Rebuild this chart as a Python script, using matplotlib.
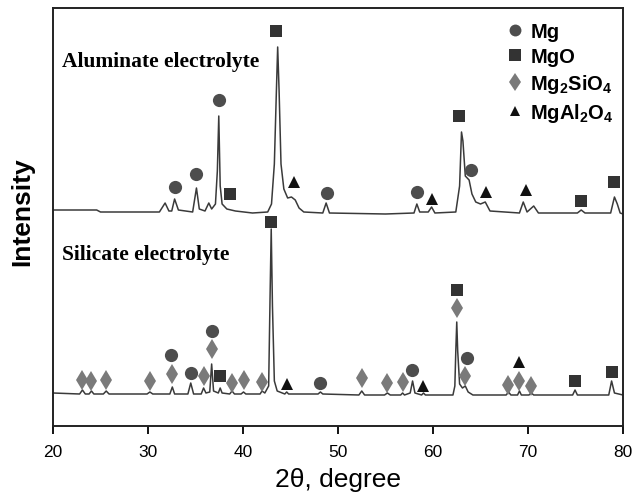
#IMPORT BLOCK===========================================================
import matplotlib
matplotlib.use('Agg')
import matplotlib.pyplot as plt
from matplotlib.lines import Line2D

#INPUT DATA=============================================================
# -- aluminate electrolyte pattern (2theta, intensity in arb. units)
alTheta = [20.0, 24.6, 25.0, 31.2, 31.8, 32.2, 32.5, 32.8, 33.2, 34.7,
           35.1, 35.4, 36.0, 36.4, 36.7, 37.1, 37.3, 37.45, 37.6, 37.8,
           38.3, 39.2, 41.0, 42.6, 43.0, 43.3, 43.5, 43.65, 43.8, 44.0,
           44.3, 44.7, 45.1, 45.5, 45.9, 46.4, 48.4, 48.75, 49.1, 55.0,
           58.0, 58.3, 58.6, 59.5, 59.85, 60.2, 62.4, 62.8, 63.0, 63.15,
           63.4, 63.8, 64.1, 64.5, 65.0, 65.5, 66.0, 69.1, 69.5, 69.9,
           70.6, 71.1, 71.6, 75.2, 75.6, 76.0, 78.7, 79.1, 79.4, 79.7, 80.0]
alInt   = [216, 216, 214, 214, 223, 215, 215, 227, 216, 214,
           238, 217, 215, 223, 217, 222, 255, 310, 240, 222,
           217, 215, 213, 214, 222, 262, 330, 379, 335, 262,
           237, 228, 229, 226, 218, 214, 213, 223, 213, 212,
           213, 222, 214, 214, 219, 213, 214, 240, 294, 285,
           250, 246, 232, 224, 222, 224, 215, 213, 224, 214,
           220, 213, 213, 213, 216, 213, 213, 229, 222, 213, 212]

# -- silicate electrolyte pattern (2theta, intensity in arb. units)
siTheta = [20.0, 22.8, 23.1, 23.4, 23.8, 24.05, 24.3, 25.3, 25.6, 25.9,
           29.9, 30.2, 30.5, 32.3, 32.56, 32.8, 34.2, 34.5, 34.8, 35.6,
           35.85, 36.1, 36.5, 36.7, 36.9, 37.4, 37.6, 37.8, 38.6, 38.85,
           39.1, 39.8, 40.05, 40.3, 41.8, 42.0, 42.3, 42.7, 42.85, 42.97,
           43.1, 43.3, 43.6, 44.4, 44.6, 44.8, 47.9, 48.15, 48.4, 52.2,
           52.5, 52.8, 54.9, 55.2, 55.5, 56.6, 56.8, 57.0, 57.6, 57.85,
           58.1, 58.8, 59.0, 59.2, 62.1, 62.3, 62.4, 62.5, 62.6, 62.8,
           63.1, 63.4, 63.7, 64.2, 67.7, 67.95, 68.2, 68.9, 69.1, 69.3,
           70.1, 70.35, 70.6, 74.7, 74.95, 75.2, 78.5, 78.8, 79.1, 80.0]
siInt   = [33, 32, 36, 32, 32, 35, 32, 32, 35, 32,
           32, 34, 32, 32, 39, 32, 32, 43, 32, 32,
           38, 33, 34, 62, 35, 33, 38, 33, 32, 35,
           32, 32, 34, 32, 32, 35, 33, 40, 130, 197,
           120, 45, 35, 32, 34, 32, 32, 34, 32, 31,
           35, 31, 31, 33, 31, 31, 33, 31, 33, 45,
           33, 31, 33, 31, 31, 40, 75, 104, 75, 42,
           38, 40, 34, 31, 31, 34, 31, 31, 35, 31,
           31, 33, 31, 31, 36, 31, 31, 45, 33, 31]

# -- phase markers, aluminate pattern
alMgTh    = [32.8, 35.08, 37.46, 48.86, 58.29, 64.0]
alMgInt   = [239, 252, 326, 233, 234, 256]
alMgOTh   = [38.59, 43.5, 62.78, 75.58, 79.08]
alMgOInt  = [232, 395, 310, 225, 244]
alSpTh    = [45.42, 59.87, 65.59, 69.8]
alSpInt   = [244, 227, 234, 236]

# -- phase markers, silicate pattern
siMgTh    = [32.45, 34.48, 36.73, 48.13, 57.77, 63.55]
siMgInt   = [71, 53, 95, 43, 56, 68]
siMgOTh   = [37.6, 42.97, 62.54, 74.95, 78.8]
siMgOInt  = [50, 204, 136, 45, 54]
siFoTh    = [23.09, 24.04, 25.6, 30.17, 32.56, 35.85, 36.73, 38.83,
             40.06, 42.03, 52.5, 55.17, 56.82, 62.54, 63.38, 67.94,
             69.1, 70.33]
siFoInt   = [46, 45, 46, 45, 52, 50, 77, 43, 46, 44, 48, 43, 44, 118,
             50, 41, 45, 40]
siSpTh    = [44.61, 58.99, 69.02]
siSpInt   = [42, 40, 64]

phaseLbl  = ['Mg', 'MgO', 'Mg$_2$SiO$_4$', 'MgAl$_2$O$_4$']

#STYLE==================================================================
plt.rcParams['font.family'] = ['Liberation Sans', 'DejaVu Sans']
plt.rcParams['mathtext.fontset'] = 'custom'
plt.rcParams['mathtext.rm'] = 'Liberation Sans:bold'
plt.rcParams['mathtext.default'] = 'rm'

lnCol = '#3a3a3a'
mSty  = {                                                               # marker, colour, size
    'Mg'  : ('o', '#4d4d4d', 9.5),
    'MgO' : ('s', '#333333', 9.0),
    'Fo'  : ('d', '#7a7a7a', 10.5),
    'Sp'  : ('^', '#111111', 8.0),
}

#PLOT===================================================================
fig = plt.figure(figsize=(6.33, 5.02), dpi=100)
ax  = fig.add_axes([53/633, 1-427/502, 570/633, 418/502])

ax.plot(alTheta, alInt, '-', color=lnCol, lw=1.1)
ax.plot(siTheta, siInt, '-', color=lnCol, lw=1.1)

def putMarks(th, vals, key):
    m, c, s = mSty[key]
    ax.plot(th, vals, ls='none', marker=m, color=c, ms=s, mew=0,
            zorder=3, clip_on=False)

putMarks(alMgTh, alMgInt, 'Mg')
putMarks(alMgOTh, alMgOInt, 'MgO')
putMarks(alSpTh, alSpInt, 'Sp')
putMarks(siMgTh, siMgInt, 'Mg')
putMarks(siMgOTh, siMgOInt, 'MgO')
putMarks(siFoTh, siFoInt, 'Fo')
putMarks(siSpTh, siSpInt, 'Sp')

# -- sample labels
ax.text(20.9, 365, 'Aluminate electrolyte', family='Liberation Serif',
        weight='bold', fontsize=15.5, va='center', ha='left')
ax.text(20.9, 172, 'Silicate electrolyte', family='Liberation Serif',
        weight='bold', fontsize=15.5, va='center', ha='left')

# -- legend
hnd = []
for key in ['Mg', 'MgO', 'Fo', 'Sp']:
    m, c, s = mSty[key]
    hnd.append(Line2D([], [], ls='none', marker=m, color=c, ms=s*0.9, mew=0))
leg = ax.legend(hnd, phaseLbl, loc='upper right', bbox_to_anchor=(1.012, 1.005),
                frameon=False, handlelength=0.8, handletextpad=0.35,
                labelspacing=0.3, borderpad=0.3,
                prop={'family': 'Liberation Sans', 'weight': 'bold', 'size': 14.5})

# -- axes
ax.set_xlim(20, 80)
ax.set_ylim(0, 418)
ax.set_xticks([20, 30, 40, 50, 60, 70, 80])
ax.set_yticks([])
ax.tick_params(axis='x', direction='out', length=6, width=1.3,
               labelsize=12.5, pad=7)
for sp in ax.spines.values():
    sp.set_linewidth(1.4)
    sp.set_color('#222222')

ax.set_xlabel('2θ, degree', fontsize=19, labelpad=6)
ax.set_ylabel('Intensity', fontsize=19, weight='bold')
ax.yaxis.set_label_coords(-0.033, 0.515)

#SAVE===================================================================
plt.savefig('out.png', dpi=100)
